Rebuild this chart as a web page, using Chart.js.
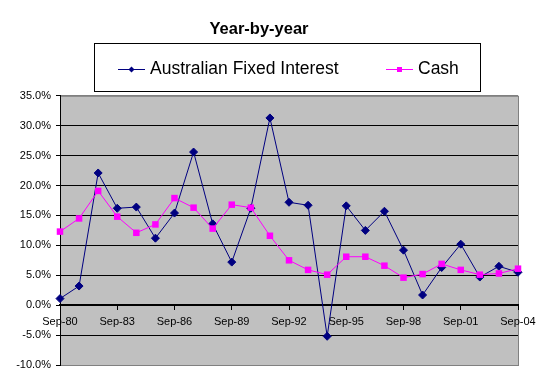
<!DOCTYPE html>
<html>
<head>
<meta charset="utf-8">
<title>Year-by-year</title>
<script src="https://cdn.jsdelivr.net/npm/chart.js@4.4.1/dist/chart.umd.min.js"></script>
<style>
  html, body { margin: 0; padding: 0; background: #fff; }
  #chartId { display: block; }
</style>
</head>
<body>
<canvas id="chartId" width="554" height="389"></canvas>
<script>
// one point per year, Sep-80 .. Sep-04
const years = ['Sep-80', 'Sep-81', 'Sep-82', 'Sep-83', 'Sep-84', 'Sep-85', 'Sep-86', 'Sep-87',
  'Sep-88', 'Sep-89', 'Sep-90', 'Sep-91', 'Sep-92', 'Sep-93', 'Sep-94', 'Sep-95', 'Sep-96',
  'Sep-97', 'Sep-98', 'Sep-99', 'Sep-00', 'Sep-01', 'Sep-02', 'Sep-03', 'Sep-04'];
const fixedInterest = [1.1, 3.2, 22.1, 16.2, 16.4, 11.2, 15.4, 25.6, 13.6, 7.2, 16.2, 31.3, 17.2,
  16.7, -5.2, 16.6, 12.5, 15.7, 9.2, 1.7, 6.3, 10.2, 4.7, 6.5, 5.5];
const cash = [12.3, 14.5, 19.1, 14.8, 12.1, 13.5, 17.9, 16.3, 12.8, 16.8, 16.3, 11.6, 7.5,
  5.9, 5.1, 8.1, 8.1, 6.6, 4.6, 5.2, 6.9, 5.9, 5.1, 5.3, 6.1];
const seriesNames = ['Australian Fixed Interest', 'Cash'];
const yMin = -10, yMax = 35, yStep = 5;

const FONT = '"Liberation Sans", Arial, sans-serif';
Chart.defaults.font.family = FONT;
Chart.defaults.color = '#000';

// grey plot area like the old Excel charts
const plotBackground = {
  id: 'plotBackground',
  beforeDraw(chart) {
    const ctx = chart.ctx;
    const a = chart.chartArea;
    ctx.save();
    ctx.fillStyle = '#c0c0c0';
    ctx.fillRect(a.left, a.top, a.right - a.left, a.bottom - a.top);
    ctx.strokeStyle = '#808080';
    ctx.lineWidth = 1;
    ctx.strokeRect(a.left + 0.5, a.top + 0.5, a.right - a.left, a.bottom - a.top);
    ctx.restore();
  }
};

// boxed legend with line + marker samples
const legendBox = {
  id: 'legendBox',
  afterDraw(chart) {
    const ctx = chart.ctx;
    ctx.save();
    ctx.strokeStyle = '#000';
    ctx.lineWidth = 1;
    ctx.strokeRect(94.5, 43.5, 386, 48);

    const items = [
      { x: 118, ds: chart.data.datasets[0], shape: 'diamond' },
      { x: 386, ds: chart.data.datasets[1], shape: 'square' }
    ];
    items.forEach(it => {
      const y = 69.5;
      ctx.strokeStyle = it.ds.borderColor;
      ctx.beginPath();
      ctx.moveTo(it.x, y);
      ctx.lineTo(it.x + 27, y);
      ctx.stroke();
      ctx.fillStyle = it.ds.borderColor;
      const cx = it.x + 13.5;
      if (it.shape == 'diamond') {
        ctx.beginPath();
        ctx.moveTo(cx, y - 3);
        ctx.lineTo(cx + 3, y);
        ctx.lineTo(cx, y + 3);
        ctx.lineTo(cx - 3, y);
        ctx.closePath();
        ctx.fill();
      } else {
        ctx.fillRect(cx - 2.5, y - 2.5, 5, 5);
      }
      ctx.fillStyle = '#000';
      ctx.font = '17.5px ' + FONT;
      ctx.textBaseline = 'alphabetic';
      ctx.fillText(it.ds.label, it.x + 32, 74);
    });
    ctx.restore();
  }
};

const chrt = document.getElementById('chartId').getContext('2d');

window.lineChart = new Chart(chrt, {
  type: 'line',
  data: {
    labels: years,
    datasets: [{
      label: seriesNames[0],
      data: fixedInterest,
      borderColor: '#000080',
      backgroundColor: '#000080',
      borderWidth: 1,
      pointStyle: 'rectRot',
      pointRadius: 4,
      pointBorderWidth: 1,
      tension: 0,
      clip: false,
      order: 1
    }, {
      label: seriesNames[1],
      data: cash,
      borderColor: '#ff00ff',
      backgroundColor: '#ff00ff',
      borderWidth: 1,
      pointStyle: 'rect',
      pointRadius: 4.6,
      pointBorderWidth: 0,
      tension: 0,
      clip: false,
      order: 0
    }]
  },
  options: {
    responsive: false,
    animation: false,
    layout: { padding: { left: 0, right: 36, top: 0, bottom: 24 } },
    plugins: {
      legend: { display: false },
      tooltip: { enabled: false },
      title: {
        display: true,
        text: 'Year-by-year',
        color: '#000',
        font: { family: FONT, size: 16.5, weight: 'bold' },
        padding: { top: 20, bottom: 56 }
      }
    },
    scales: {
      x: {
        type: 'category',
        position: { y: 0 },
        offset: false,
        border: { color: '#000', width: 2 },
        grid: {
          drawOnChartArea: false,
          drawTicks: true,
          tickLength: 4,
          color: ctx => (ctx.index % 3 === 0 ? '#000' : 'rgba(0,0,0,0)')
        },
        ticks: {
          autoSkip: false,
          maxRotation: 0,
          minRotation: 0,
          padding: 6,
          color: '#000',
          font: { size: 11 },
          callback: function (v, i) {
            return i % 3 === 0 ? this.getLabelForValue(v) : '';
          }
        }
      },
      y: {
        min: yMin,
        max: yMax,
        border: { color: '#000', width: 1 },
        grid: {
          color: ctx => (ctx.tick && (ctx.tick.value === yMax || ctx.tick.value === yMin) ? '#808080' : '#000'),
          tickColor: '#000',
          tickLength: 4,
          lineWidth: 1
        },
        ticks: {
          stepSize: yStep,
          padding: 5,
          color: '#000',
          font: { size: 11 },
          callback: v => v.toFixed(1) + '%'
        },
        afterFit(scale) {
          scale.width = 60;
        }
      }
    }
  },
  plugins: [plotBackground, legendBox]
});
</script>
</body>
</html>
